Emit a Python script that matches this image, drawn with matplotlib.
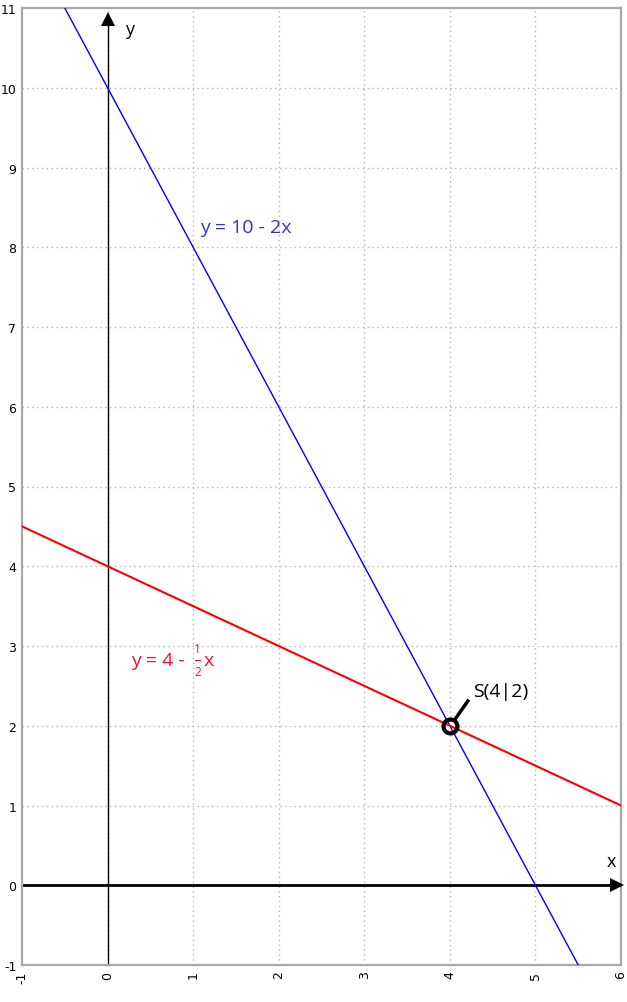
import matplotlib
matplotlib.use("Agg")
import matplotlib.pyplot as plt
import numpy as np

# Data
x_range = [-1, 6]
y_range = [-1, 11]
x_ticks = [-1, 0, 1, 2, 3, 4, 5, 6]
y_ticks = [-1, 0, 1, 2, 3, 4, 5, 6, 7, 8, 9, 10, 11]
blue_intercept, blue_slope = 10, -2
red_intercept, red_slope = 4, -0.5
intersection = (4, 2)

fig = plt.figure(figsize=(6.27, 10.03), dpi=100)
ax = fig.add_axes([22/627, 37/1003, 599/627, 957/1003])
ax.set_xlim(*x_range)
ax.set_ylim(*y_range)

# grid
for xv in x_ticks[1:-1]:
    ax.axvline(xv, color="#b4b4b4", lw=1, ls=(0, (1, 2.5)), zorder=0)
for yv in y_ticks[1:-1]:
    ax.axhline(yv, color="#b4b4b4", lw=1, ls=(0, (1, 2.5)), zorder=0)

for s in ax.spines.values():
    s.set_color("#a8a8a8")
    s.set_linewidth(1.6)

ax.set_xticks(x_ticks)
ax.set_yticks(y_ticks)
ax.tick_params(length=0, labelsize=9, pad=4)
ax.set_xticklabels([str(v) for v in x_ticks], rotation=90)
ax.set_yticklabels([str(v) for v in y_ticks])

# coordinate axes
ax.plot([0, 0], [y_range[0], 10.8], color="black", lw=1, zorder=2, clip_on=False)
ax.plot([x_range[0], 5.9], [0, 0], color="black", lw=2, zorder=2, clip_on=False)
ax.plot([0], [10.86], marker="^", ms=10, color="black", mew=0, zorder=3, clip_on=False)
ax.plot([5.95], [0], marker=">", ms=10, color="black", mew=0, zorder=3, clip_on=False)
ax.text(0.26, 10.74, "y", fontsize=13, family="Open Sans", va="center", ha="center")
ax.text(5.89, 0.3, "x", fontsize=13, family="Open Sans", va="center", ha="center")

# lines
xs = np.array(x_range, dtype=float)
ax.plot(xs, blue_intercept + blue_slope * xs, color="#0000ff", lw=1, zorder=4)
ax.plot(xs, red_intercept + red_slope * xs, color="#ff0000", lw=1.5, zorder=4)

# labels
ax.text(1.08, 8.25, "y = 10 - 2x", color="#3333cc", fontsize=14, family="Open Sans",
        va="center", ha="left")
ax.text(0.27, 2.82, "y = 4 -", color="#ee1133", fontsize=14, family="Open Sans",
        va="center", ha="left")
ax.text(1.05, 2.97, "1", color="#ee1133", fontsize=8.5, family="Open Sans", va="center", ha="center")
ax.text(1.05, 2.68, "2", color="#ee1133", fontsize=8.5, family="Open Sans", va="center", ha="center")
ax.plot([1.02, 1.08], [2.825, 2.825], color="#ee1133", lw=0.8)
ax.text(1.12, 2.82, "x", color="#ee1133", fontsize=14, family="Open Sans", va="center", ha="left")

# intersection point
px, py = intersection
ax.plot([px + 0.06, px + 0.21], [py + 0.08, py + 0.31], color="black", lw=2.5, zorder=5)
ax.plot(px, py, "o", ms=10, mfc="none", mec="black", mew=3, zorder=6)
ax.text(px + 0.27, py + 0.43, "S(4|2)", fontsize=14, family="Open Sans", va="center", ha="left")

fig.savefig("out.png", dpi=100)
